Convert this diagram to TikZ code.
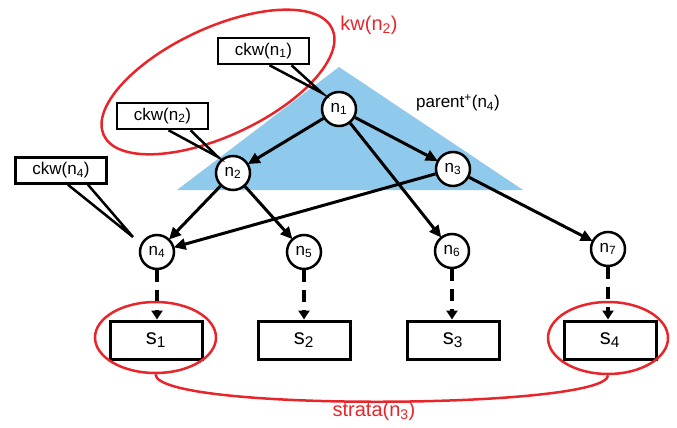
\documentclass[tikz,border=0pt]{standalone}
\usepackage{fontspec}
\setmainfont{Liberation Sans}
\usetikzlibrary{arrows.meta,shapes.geometric}
\definecolor{hullblue}{RGB}{143,201,236}
\definecolor{setred}{RGB}{232,37,42}
\tikzset{
  tnode/.style={circle, draw, fill=white, line width=2.5pt, minimum size=34pt, inner sep=0pt, font=\fontsize{17}{17}\selectfont},
  sbox/.style={rectangle, draw, fill=white, line width=3pt, minimum width=92pt, minimum height=38pt, inner sep=0pt, font=\fontsize{22}{22}\selectfont},
  cbox/.style={rectangle, draw, fill=white, line width=2.5pt, minimum width=91pt, minimum height=26pt, inner sep=0pt, font=\fontsize{17}{17}\selectfont},
  edge/.style={line width=3pt, -{Triangle[length=12pt,width=11pt]}, shorten >=-1pt},
  dasharrow/.style={line width=4pt, dash pattern=on 12pt off 8pt, -{Triangle[length=9pt,width=11pt]}},
  callout/.style={line width=2.5pt},
  redset/.style={ellipse, draw=setred, line width=2.5pt, inner sep=0pt},
  redlabel/.style={text=setred, font=\fontsize{20}{20}\selectfont},
}
\begin{document}
\begin{tikzpicture}[x=1pt, y=-1pt]
\useasboundingbox (0,0) rectangle (677,428);

% ancestor hull
\fill[hullblue] (339,67) -- (177,190) -- (523,190) -- cycle;
\node[font=\fontsize{17}{17}\selectfont] (plabel) at (458,103) {parent\textsuperscript{+}(n\textsubscript{4})};

% keyword set of n2
\node[redset, minimum width=252pt, minimum height=108pt, rotate=25] (kwset) at (218,82) {};
\node[redlabel] (kwlabel) at (369,25) {kw(n\textsubscript{2})};

% tree nodes
\node[tnode] (n1) at (339,109) {n\textsubscript{1}};
\node[tnode] (n2) at (233,173) {n\textsubscript{2}};
\node[tnode] (n3) at (453,169) {n\textsubscript{3}};
\node[tnode] (n4) at (157,252) {n\textsubscript{4}};
\node[tnode] (n5) at (304,252) {n\textsubscript{5}};
\node[tnode] (n6) at (452,251) {n\textsubscript{6}};
\node[tnode] (n7) at (608,249) {n\textsubscript{7}};

% tree edges
\draw[edge] (n1) -- (n2);
\draw[edge] (n1) -- (n3);
\draw[edge] (n1) -- (n6);
\draw[edge] (n2) -- (n4);
\draw[edge] (n2) -- (n5);
\draw[edge] (n3) -- (n4);
\draw[edge] (n3) -- (n7);

% strata boxes
\node[sbox] (s1) at (156,340) {s\textsubscript{1}};
\node[sbox] (s2) at (304,340) {s\textsubscript{2}};
\node[sbox] (s3) at (453,340) {s\textsubscript{3}};
\node[sbox] (s4) at (610,340) {s\textsubscript{4}};

\draw[dasharrow] (n4.south) -- (n4.south |- s1.north);
\draw[dasharrow] (n5.south) -- (n5.south |- s2.north);
\draw[dasharrow] (n6.south) -- (n6.south |- s3.north);
\draw[dasharrow] (n7.south) -- (n7.south |- s4.north);

% strata of n3
\node[redset, minimum width=121pt, minimum height=71pt] (e1) at (155.5,337.5) {};
\node[redset, minimum width=120pt, minimum height=72pt] (e4) at (608,338) {};
\draw[setred, line width=2.5pt] (e1.south) .. controls +(0,38) and +(0,34) .. (e4.south);
\node[redlabel] (slabel) at (374,411) {strata(n\textsubscript{3})};

% keyword callouts
\node[cbox] (ckw1) at (263.5,51) {ckw(n\textsubscript{1})};
\node[cbox] (ckw2) at (162.5,116) {ckw(n\textsubscript{2})};
\node[cbox] (ckw4) at (61,170.5) {ckw(n\textsubscript{4})};
\coordinate (t1) at ([shift={(-17,-16)}]n1.center);
\coordinate (t2) at ([shift={(-15,-16)}]n2.center);
\coordinate (t4) at ([shift={(-24,-15)}]n4.center);
\draw[callout] ([xshift=6pt]ckw1.south) -- (t1) -- ([xshift=28pt]ckw1.south);
\draw[callout] ([xshift=6pt]ckw2.south) -- (t2) -- ([xshift=28pt]ckw2.south);
\draw[callout] ([xshift=7pt]ckw4.south) -- (t4) -- ([xshift=27pt]ckw4.south);
\end{tikzpicture}
\end{document}
